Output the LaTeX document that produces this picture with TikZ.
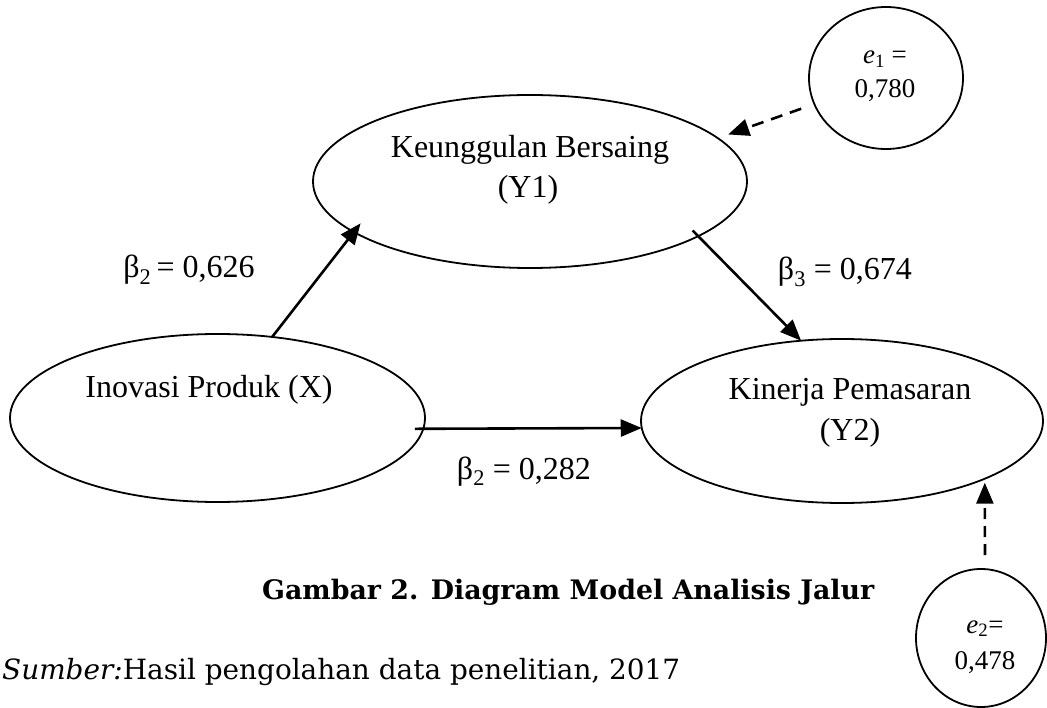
\documentclass[tikz,border=0pt]{standalone}
\usepackage{fontspec}
\setmainfont{Liberation Serif}
\newfontfamily\capfont{DejaVu Serif}
\usetikzlibrary{arrows.meta,shapes.geometric}
\begin{document}
\begin{tikzpicture}[x=1pt,y=-1pt,
  latent/.style={draw, ellipse, line width=1.8pt, inner sep=0pt, outer sep=0pt},
  lbl/.style={font=\fontsize{32}{38}\selectfont, inner sep=0pt, anchor=base},
  elbl/.style={font=\fontsize{27}{32}\selectfont, inner sep=0pt, anchor=base},
  arrowline/.style={line width=2.6pt, -{Triangle[length=21pt,width=17pt]}},
  errline/.style={arrowline, dash pattern=on 12pt off 8pt}]
\useasboundingbox (0,0) rectangle (1047,708);
% latent variables
\node[latent, minimum width=434pt, minimum height=173pt] (Y1) at (530,181.5) {};
\node[latent, minimum width=415pt, minimum height=168pt] (X) at (217.5,418) {};
\node[latent, minimum width=402pt, minimum height=164pt] (Y2) at (842,421) {};
\node[latent, minimum width=154pt, minimum height=142pt] (e1) at (886,78) {};
\node[latent, minimum width=130pt, minimum height=138pt] (e2) at (981,638) {};
% texts in the ellipses
\node[lbl] (y1a) at (530,158) {Keunggulan Bersaing};
\node[lbl] (y1b) at (528,198) {(Y1)};
\node[lbl] (xa) at (209,398) {Inovasi Produk (X)};
\node[lbl] (y2a) at (850,400) {Kinerja Pemasaran};
\node[lbl] (y2b) at (850,441) {(Y2)};
\node[elbl] (e1a) at (885,64) {\textit{e}\textsubscript{1} =};
\node[elbl] (e1b) at (885,98) {0,780};
\node[elbl] (e2a) at (985,633) {\textit{e}\textsubscript{2}=};
\node[elbl] (e2b) at (985,669) {0,478};
% path coefficients
\node[lbl] (b1) at (189,278) {β\textsubscript{2}\,= 0,626};
\node[lbl] (b3) at (845,280) {β\textsubscript{3} = 0,674};
\node[lbl] (b2) at (524,479) {β\textsubscript{2} = 0,282};
% connectors
\draw[arrowline, shorten >=-11pt] (X.56) -- (Y1.196.3);
\draw[arrowline, shorten <=-8pt] (Y1.342.1) -- (Y2.117.9);
\draw[arrowline, shorten <=-8.5pt] (X.357.2) -- (Y2.182);
\draw[errline, shorten <=14pt, shorten >=11pt] (e1.200) -- (Y1.13.9);
\draw[errline, dash pattern=on 11pt off 7pt, shorten <=14pt, shorten >=4pt] ([xshift=4pt]e2.north) -- (Y2.338.1);
% caption and source
\node[anchor=base west, inner sep=0pt] (cap) at (262,599)
  {\resizebox{612pt}{!}{\capfont\bfseries Gambar 2. Diagram Model Analisis Jalur}};
\node[anchor=base west, inner sep=0pt] (src) at (2,679)
  {\resizebox{678pt}{!}{\capfont\textit{Sumber:}Hasil pengolahan data penelitian, 2017}};
\end{tikzpicture}
\end{document}
